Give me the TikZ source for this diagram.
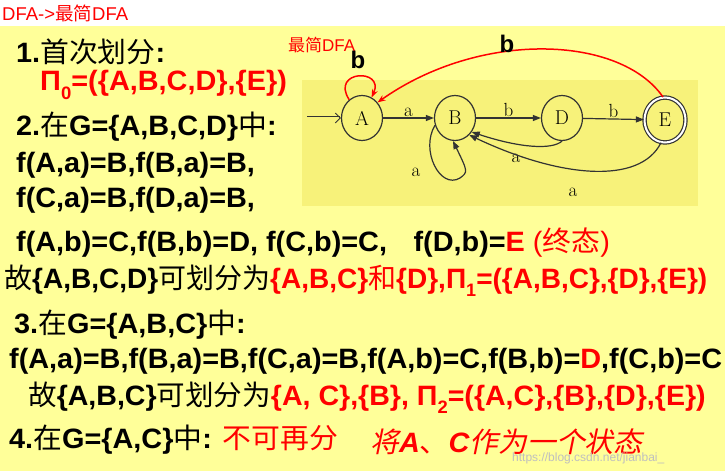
\documentclass[tikz,border=0pt]{standalone}
\usepackage{fontspec}
\usepackage{graphicx}
\setmainfont{Liberation Sans}
\newfontfamily\cjk{Noto Sans CJK SC}
\newfontfamily\lmr{Latin Modern Roman}
\usetikzlibrary{arrows.meta,shapes.geometric}
\definecolor{bgy}{HTML}{FFFF99}
\definecolor{boxy}{HTML}{F7F27A}
\definecolor{rd}{HTML}{FF0000}
\newcommand\zh[1]{{\cjk\mdseries #1}}
\newcommand\sub[1]{\raisebox{-0.3em}{\fontsize{18}{18}\selectfont #1}}
\newcommand\sq[1]{\scalebox{1.03}[1]{#1}}
\begin{document}
\begin{tikzpicture}[x=1pt,y=-1pt,
  txt/.style={anchor=west,inner sep=0pt,font=\bfseries\fontsize{28}{28}\selectfont},
  st/.style={ellipse,draw=black!80,line width=1.2pt,minimum width=41pt,minimum height=45pt,inner sep=0pt,font=\lmr\fontsize{20}{20}\selectfont},
  ed/.style={draw=black!80,line width=1.2pt,-{Triangle[length=8pt,width=6pt]}},
  lb/.style={font=\lmr\fontsize{19}{19}\selectfont,inner sep=1pt},
  red/.style={draw=rd,line width=1.5pt,-{Stealth[length=8pt,width=6pt]}}]
\useasboundingbox (0,0) rectangle (725,471);
\clip (0,0) rectangle (725,471);
\fill[bgy] (0,0) rectangle (725,471);
\fill[white] (0,0) rectangle (725,26);
\node[anchor=west,inner sep=0,text=rd,font=\fontsize{18.5}{18.5}\selectfont] (t0) at (2,13) {DFA->\zh{最简}DFA};
% diagram
\fill[boxy] (302,80) rectangle (698,206);
\node[anchor=west,inner sep=0,text=rd,font=\fontsize{17}{17}\selectfont] (mj) at (288,45) {\zh{最简}DFA};
\node[st] (A) at (362,118) {A};
\node[st] (B) at (455,118) {B};
\node[st] (D) at (562,118) {D};
\node[st,double,double distance=2pt] (E) at (665,120) {E};
\coordinate (s0) at (307,118);
\draw[draw=black!80,double=boxy,double distance=3pt,line width=0.9pt,-{Straight Barb[length=5pt,width=10pt]}] (s0) -- (A);
\draw[ed] (A) -- node[lb,above] {a} (B);
\draw[ed] (B) -- node[lb,above] {b} (D);
\draw[ed] (D) -- node[lb,above] {b} (E);
\draw[ed] (D.south) .. controls (552,150) and (520,148) .. (B.-40);
\node[lb] (la1) at (516,158) {a};
\draw[ed] (E.-100) .. controls (640,185) and (560,178) .. (B.-50);
\node[lb] (la2) at (573,192) {a};
\draw[ed] (B.-160) .. controls (420,150) and (440,190) .. (460,178) .. controls (468,172) .. (B.-95);
\node[lb] (la3) at (416,172) {a};
\draw[red] (A.125) .. controls (330,70) and (385,68) .. (A.65);
\node[font=\bfseries\fontsize{24}{24}\selectfont,inner sep=0] (lbA) at (358,60) {b};
\draw[red] (E.95) .. controls (620,35) and (480,30) .. (A.45);
\node[font=\bfseries\fontsize{24}{24}\selectfont,inner sep=0] (lbE) at (507,44) {b};
% text
\node[txt] (l1) at (16,52) {\sq{1.\zh{首次划分}:}};
\node[txt,text=rd] (l2) at (40,85) {\sq{Π\sub{0}=(\{A,B,C,D\},\{E\})}};
\node[txt] (l3) at (16,127) {\sq{2.\zh{在}G=\{A,B,C,D\}\zh{中}:}};
\node[txt] (l4) at (16,165) {\sq{f(A,a)=B,f(B,a)=B,}};
\node[txt] (l5) at (16,200) {\sq{f(C,a)=B,f(D,a)=B,}};
\node[txt] (l6) at (16,243) {\sq{f(A,b)=C,f(B,b)=D, f(C,b)=C,\hspace{18pt} f(D,b)=\textcolor{rd}{E {\mdseries(\zh{终态})}}}};
\node[txt] (l7) at (4,281) {\scalebox{1.0}[1]{\zh{故}\{A,B,C,D\}\zh{可划分为}\textcolor{rd}{\{A,B,C\}\zh{和}\{D\},Π\sub{1}=(\{A,B,C\},\{D\},\{E\})}}};
\node[txt] (l8) at (14,325) {\sq{3.\zh{在}G=\{A,B,C\}\zh{中}:}};
\node[txt] (l9) at (9,361) {\scalebox{1.03}[1]{f(A,a)=B,f(B,a)=B,f(C,a)=B,f(A,b)=C,f(B,b)=\textcolor{rd}{D},f(C,b)=C}};
\node[txt] (l10) at (28,398) {\scalebox{1.02}[1]{\zh{故}\{A,B,C\}\zh{可划分为}\textcolor{rd}{\{A, C\},\{B\}, Π\sub{2}=(\{A,C\},\{B\},\{D\},\{E\})}}};
\node[txt] (l11) at (9,440) {\sq{4.\zh{在}G=\{A,C\}\zh{中}: \textcolor{rd}{\mdseries\zh{不可再分}}}};
\node[txt,text=rd] (l12) at (370,442) {\sq{\itshape\zh{\fontspec{Noto Sans CJK SC}[FakeSlant=0.2]将}A\zh{、}C\zh{\fontspec{Noto Sans CJK SC}[FakeSlant=0.2]作为一个状态}}};
\node[anchor=west,inner sep=0,text=black!25,font=\fontsize{12}{12}\selectfont] (wm) at (512,458) {https://blog.csdn.net/jianbai\_};
\end{tikzpicture}
\end{document}
